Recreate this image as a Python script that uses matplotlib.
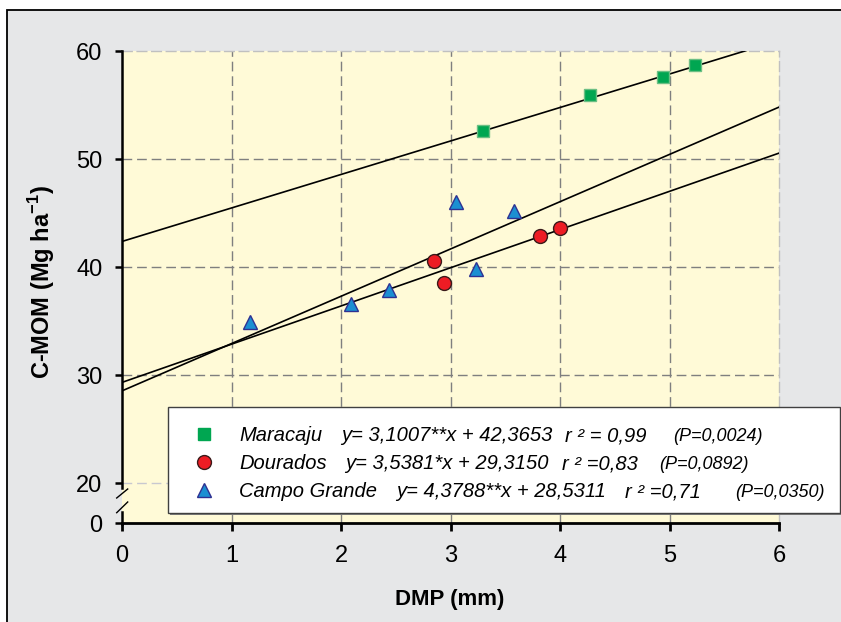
import matplotlib
matplotlib.use('Agg')
import matplotlib.pyplot as plt
from matplotlib.patches import Rectangle
from matplotlib.lines import Line2D
import numpy as np

plt.rcParams['font.family'] = ['Liberation Sans', 'DejaVu Sans']
plt.rcParams['mathtext.fontset'] = 'custom'
plt.rcParams['mathtext.rm'] = 'Liberation Sans'
plt.rcParams['mathtext.bf'] = 'Liberation Sans:bold'

# data
dmp_maracaju = [3.30, 4.27, 4.945, 5.23]
cmom_maracaju = [52.6, 55.9, 57.55, 58.7]
dmp_dourados = [2.85, 2.94, 3.82, 4.00]
cmom_dourados = [40.55, 38.55, 42.9, 43.6]
dmp_campo = [1.165, 2.09, 2.44, 3.05, 3.23, 3.58]
cmom_campo = [34.9, 36.6, 37.85, 46.0, 39.85, 45.15]

sites = ['Maracaju', 'Dourados', 'Campo Grande']
slopes = [3.1007, 3.5381, 4.3788]
intercepts = [42.3653, 29.3150, 28.5311]
eq_texts = ['y= 3,1007**x + 42,3653', 'y= 3,5381*x + 29,3150', 'y= 4,3788**x + 28,5311']
r2_texts = ['r \u00b2 = 0,99', 'r \u00b2 =0,83', 'r \u00b2 =0,71']
p_texts = ['(P=0,0024)', '(P=0,0892)', '(P=0,0350)']

x_ticks = [0, 1, 2, 3, 4, 5, 6]
y_ticks = [20, 30, 40, 50, 60]

W, H = 841, 622
def fx(x):
    return x / W
def fy(y):
    return 1 - y / H

bg_gray = '#e6e7e8'
bg_yellow = '#fffad7'
grid_col = '#7f7f7f'
light_grid = '#c8c8d0'

fig = plt.figure(figsize=(W/100, H/100), dpi=100)
fig.patch.set_facecolor('white')
fig.add_artist(Rectangle((fx(7), fy(630)), fx(845)-fx(7), fy(10)-fy(630),
                         transform=fig.transFigure, facecolor=bg_gray,
                         edgecolor='black', lw=1.3, zorder=-5))

ax = fig.add_axes([fx(122), fy(523), fx(779)-fx(122), fy(51)-fy(523)])
ax.set_facecolor(bg_yellow)

# broken y axis: 0 squeezed just under 20
px_per_unit = (483 - 51) / 40.0
y0 = 20 - (523 - 483) / px_per_unit
ax.set_xlim(0, 6)
ax.set_ylim(y0, 60)

dash = (0, (7, 3.5))
for v in x_ticks[1:-1]:
    ax.axvline(v, color=grid_col, ls=dash, lw=1, zorder=1)
for v in y_ticks[1:-1]:
    ax.axhline(v, color=grid_col, ls=dash, lw=1, zorder=1)
ax.axhline(20, color=light_grid, ls=dash, lw=1, zorder=1)

for s in ['top', 'right']:
    ax.spines[s].set_color('#c0c0c0')
    ax.spines[s].set_linestyle(dash)
    ax.spines[s].set_linewidth(1)
ax.spines['left'].set_visible(False)
ax.spines['bottom'].set_linewidth(2)

# regression lines
xl = np.array([0, 6])
for a, b in zip(slopes, intercepts):
    ax.plot(xl, a * xl + b, color='black', lw=1.2, zorder=3)

ax.plot(dmp_maracaju, cmom_maracaju, 's', ms=9, mfc='#00a651', mec='#6cbf84',
        mew=1, ls='none', zorder=4)
ax.plot(dmp_dourados, cmom_dourados, 'o', ms=10, mfc='#ed1c24', mec='#3a1a1a',
        mew=1, ls='none', zorder=4)
ax.plot(dmp_campo, cmom_campo, '^', ms=10, mfc='#1b8fd2', mec='#2e3192',
        mew=1, ls='none', zorder=4)

ax.set_xticks(x_ticks)
ax.set_xticklabels([str(v) for v in x_ticks])
ax.set_yticks([y0] + y_ticks)
ax.set_yticklabels(['0'] + [str(v) for v in y_ticks])
ax.tick_params(axis='x', length=6, width=2, pad=10, labelsize=17)
ax.tick_params(axis='y', length=5, width=1.8, pad=9, labelsize=17)

# left spine with the break marks
for (ya, yb) in [(51, 488), (512, 524)]:
    fig.add_artist(Line2D([fx(122), fx(122)], [fy(ya), fy(yb)],
                          transform=fig.transFigure, color='black', lw=1.8))
for (ya, yb) in [(498, 489), (512.7, 502)]:
    fig.add_artist(Line2D([fx(116.7), fx(127.7)], [fy(ya), fy(yb)],
                          transform=fig.transFigure, color='black', lw=1))

fig.text(fx(450), fy(599), 'DMP (mm)', ha='center', va='center',
         fontsize=16, fontweight='bold')
fig.text(fx(42), fy(282), r'C-MOM (Mg ha$^{\mathbf{-1}}$)', ha='center',
         va='center', rotation=90, fontsize=17, fontweight='bold')

# legend box
fig.add_artist(Rectangle((fx(170), fy(515)), fx(842)-fx(170), fy(409)-fy(515),
                         transform=fig.transFigure, facecolor='#808080',
                         edgecolor='none', zorder=5))
fig.add_artist(Rectangle((fx(168), fy(513)), fx(840)-fx(168), fy(407)-fy(513),
                         transform=fig.transFigure, facecolor='white',
                         edgecolor='#404040', lw=1, zorder=6))

row_y = [434, 462, 490]
eq_x = [341, 345, 396]
r2_x = [565, 562, 625]
p_x = [673, 659, 735]
mk = [dict(marker='s', ms=9, mfc='#00a651', mec='#00a651'),
      dict(marker='o', ms=10, mfc='#ed1c24', mec='#3a1a1a'),
      dict(marker='^', ms=10, mfc='#1b8fd2', mec='#2e3192')]
for i in range(3):
    base = fy(row_y[i] + 7)
    fig.add_artist(Line2D([fx(204)], [fy(row_y[i])], transform=fig.transFigure,
                          ls='none', mew=1, zorder=7, **mk[i]))
    fig.text(fx(239), base, sites[i], style='italic', fontsize=14.5,
             va='baseline', zorder=7)
    fig.text(fx(eq_x[i]), base, eq_texts[i], style='italic', fontsize=14.5,
             va='baseline', zorder=7)
    fig.text(fx(r2_x[i]), base, r2_texts[i], style='italic', fontsize=14.5,
             va='baseline', zorder=7)
    fig.text(fx(p_x[i]), base, p_texts[i], style='italic', fontsize=13,
             va='baseline', zorder=7)

plt.savefig('out.png', dpi=100)
